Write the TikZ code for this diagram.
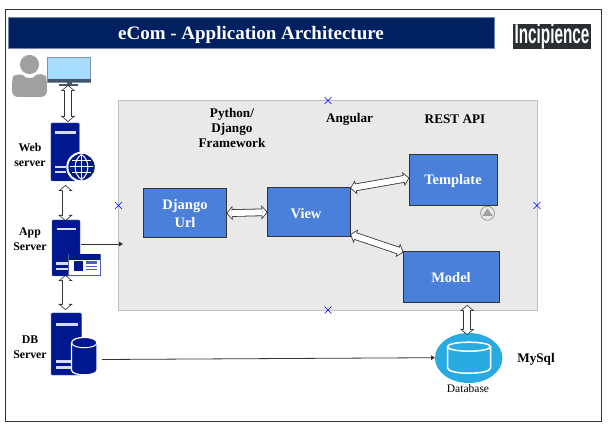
\documentclass[tikz,border=0pt]{standalone}
\usepackage{fontspec}
\setmainfont{Liberation Serif}
\newfontfamily\logofont{Liberation Sans}
\usetikzlibrary{arrows.meta,shapes.geometric}
\definecolor{navybar}{HTML}{002060}
\definecolor{barline}{HTML}{6F86AE}
\definecolor{srv}{HTML}{00188F}
\definecolor{boxblue}{HTML}{4A80D9}
\definecolor{boxline}{HTML}{333333}
\definecolor{grayfill}{HTML}{E9E9E9}
\definecolor{grayline}{HTML}{BFBFBF}
\definecolor{dbblue}{HTML}{29ABE2}
\definecolor{person}{HTML}{A0A0A0}
\definecolor{screen}{HTML}{A6DCFF}
\definecolor{screenedge}{HTML}{7F95A6}
\definecolor{monitordark}{HTML}{44546A}
\definecolor{winedge}{HTML}{4F5FB5}
\definecolor{logobg}{HTML}{2B2E33}
\tikzset{
  x=1pt,y=-1pt,
  sharp/.style={inner sep=0pt,outer sep=0pt},
  bluebox/.style={sharp,draw=boxline,line width=0.9pt,fill=boxblue},
  boxtext/.style={inner sep=0pt,text=white,align=center,font=\fontsize{14.5}{18}\selectfont\bfseries},
  lbl/.style={inner sep=0pt,align=center,font=\fontsize{11.8}{15}\selectfont\bfseries,text=black},
  lblbig/.style={inner sep=0pt,align=center,font=\fontsize{13.2}{15}\selectfont\bfseries,text=black},
  srvbody/.style={sharp,fill=srv,draw=srv!70!white,line width=0.4pt,rounded corners=1.2pt},
  strip/.style={fill=white!85!srv,draw=none},
  blockarrow/.style={draw=boxline,line width=7.6pt,
    arrows={Triangle[width=14pt,length=6pt]-Triangle[width=14pt,length=6pt]},
    postaction={draw=white,line width=6pt,shorten >=1.06pt,shorten <=1.06pt,
      arrows={Triangle[width=9.7pt,length=4.1pt]-Triangle[width=9.7pt,length=4.1pt]}}},
  thinarrow/.style={draw=boxline,line width=0.8pt,-{Triangle[width=4.5pt,length=4pt]}},
  handle/.style={draw=blue,line width=0.5pt},
}
\begin{document}
\begin{tikzpicture}
\useasboundingbox (0,0) rectangle (613,430);
\fill[white] (0,0) rectangle (613,430);
\node[sharp,draw=boxline,line width=0.9pt,minimum width=596.5pt,minimum height=411.5pt] (frame) at (303.3,215.3) {};
\node[sharp,fill=navybar,draw=barline,line width=0.6pt,minimum width=486pt,minimum height=30.5pt] (title) at (251.5,33) {};
\node[inner sep=0pt,text=white,font=\fontsize{19}{22}\selectfont\bfseries] (titletext) at (251,34.5) {eCom - Application Architecture};
\node[sharp,fill=logobg,minimum width=78pt,minimum height=23.5pt,text=white] (logo) at (552,36.5)
  {\scalebox{0.9}[1.6]{\logofont\bfseries\fontsize{17}{17}\selectfont Incipience}};

% person and monitor
\fill[person] (29.5,64.5) circle (9.6);
\fill[person,rounded corners=6pt] (12,97) -- (12,82) .. controls (13,76) and (19,74) .. (22,72.5)
  .. controls (26,78) and (33,78) .. (37,72.5) .. controls (41,74) and (46,76) .. (47,82) -- (47,97) -- cycle;
\node[sharp,fill=screen,draw=screenedge,line width=0.8pt,minimum width=43pt,minimum height=24.5pt] (monitor) at (69,69.7) {};
\fill[monitordark] (47.5,79.5) rectangle (90.5,82.2);
\fill[monitordark] (66.5,82) rectangle (71.5,84.5);
\fill[monitordark] (59,84.5) rectangle (77.5,86.5);

% gray frame
\node[sharp,fill=grayfill,draw=grayline,line width=0.8pt,minimum width=418.5pt,minimum height=210pt] (panel) at (327.8,205) {};

% web server
\node[srvbody,minimum width=28.5pt,minimum height=58pt] (web) at (65.2,152) {};
\fill[strip] (55,131.5) rectangle (75.5,134.5);
\fill[strip] (55,166) rectangle (66,168.5);
\fill[strip] (55,171) rectangle (66,173.5);
\fill[white] (81.5,167) circle (15.2);
\fill[srv] (81.5,167) circle (13.2);
\begin{scope}[draw=white,line width=1pt]
\draw (81.5,155) -- (81.5,179);
\draw (70,167) -- (93,167);
\draw (72,161) -- (91,161);
\draw (72,173) -- (91,173);
\draw (81.5,154.5) .. controls (73,160) and (73,174) .. (81.5,179.5);
\draw (81.5,154.5) .. controls (90,160) and (90,174) .. (81.5,179.5);
\end{scope}

% app server
\node[srvbody,minimum width=28pt,minimum height=56pt] (app) at (66,248) {};
\fill[strip] (56.5,228) rectangle (75.5,230.5);
\fill[strip] (56,262.5) rectangle (68,265);
\fill[strip] (56,268) rectangle (68,270.5);
\node[sharp,fill=white,draw=winedge,line width=0.8pt,minimum width=32.5pt,minimum height=21.5pt] (win) at (84.3,264.8) {};
\fill[srv] (68.5,254.3) rectangle (100.3,259.8);
\fill[srv] (73.5,261.5) rectangle (82.5,271);
\fill[winedge] (86,261.5) rectangle (97,264);
\fill[winedge] (86,265.7) rectangle (97,266.9);
\fill[winedge] (86,269) rectangle (97,270.4);

% db server
\node[srvbody,minimum width=30.5pt,minimum height=62pt] (db) at (66.3,344) {};
\fill[strip] (55.5,323) rectangle (77.5,325.5);
\fill[strip] (56,360) rectangle (72,362.5);
\fill[strip] (56,366) rectangle (72,368.5);
\draw[white,line width=1.2pt,fill=srv] (71.5,343) -- (71.5,370) .. controls (71.5,376.5) and (97,376.5) .. (97,370) -- (97,343)
  .. controls (97,335.5) and (71.5,335.5) .. (71.5,343) -- cycle;
\draw[white,line width=1pt] (71.5,342.5) .. controls (71.5,349.5) and (97,349.5) .. (97,342.5);

% blue boxes
\node[bluebox,minimum width=83pt,minimum height=48.5pt] (url) at (185,213.2) {};
\node[boxtext] (urltext) at (185,214) {Django\\Url};
\node[bluebox,minimum width=83pt,minimum height=48.5pt] (view) at (309,212.2) {};
\node[boxtext] (viewtext) at (306,214) {View};
\node[bluebox,minimum width=88pt,minimum height=51pt] (template) at (453,180) {};
\node[boxtext] (templatetext) at (453,181.5) {Template};
\node[bluebox,minimum width=96pt,minimum height=51pt] (model) at (451.5,276.5) {};
\node[boxtext] (modeltext) at (451,278) {Model};

% database
\node[sharp,ellipse,fill=dbblue,minimum width=67.5pt,minimum height=50pt] (database) at (468.7,358) {};
\draw[white,line width=1.5pt] (447.5,347) -- (447.5,368) .. controls (448,375) and (490,375) .. (490.5,368) -- (490.5,347);
\draw[white,line width=1.5pt] (469,346.7) ellipse (21.5 and 4.5);

% labels
\node[lbl] (lweb) at (30,155) {Web\\server};
\node[lbl] (lapp) at (30,239.5) {App\\Server};
\node[lbl] (ldb) at (30,347) {DB\\Server};
\node[lblbig] (lpy) at (232,127.5) {Python/\\Django\\Framework};
\node[lblbig] (lang) at (349.5,119) {Angular};
\node[lblbig] (lrest) at (455,119) {REST API};
\node[lblbig] (lmysql) at (536,359) {MySql};
\node[inner sep=0pt,font=\fontsize{11.5}{13}\selectfont] (ldbase) at (468,388.5) {Database};

% named connector ends
\coordinate (monbot) at (68,85);
\coordinate (webtop) at (68,122);
\coordinate (webbot) at (65.5,185);
\coordinate (apptop) at (65.5,221);
\coordinate (appbot) at (65.5,275);
\coordinate (dbtop) at (65.5,310);
\coordinate (appout) at (81,244);
\coordinate (panelin) at (123,244);
\coordinate (dbout) at (102,359.5);
\coordinate (dbin) at (435,357.7);
\coordinate (viewtr) at (350.2,188.3);
\coordinate (tmplin) at (409.3,178);
\coordinate (viewbr) at (350.2,234.3);
\coordinate (modin) at (403.5,252.3);
\coordinate (modbot) at (467.2,305);
\coordinate (dbasetop) at (467.2,335);

% connectors
\draw[blockarrow] (monbot) -- (webtop);
\draw[blockarrow] (webbot) -- (apptop);
\draw[blockarrow] (appbot) -- (dbtop);
\draw[blockarrow] (url.east) -- (view.west);
\draw[blockarrow] (viewtr) -- (tmplin);
\draw[blockarrow] (viewbr) -- (modin);
\draw[blockarrow] (modbot) -- (dbasetop);
\draw[thinarrow] (appout) -- (panelin);
\draw[thinarrow] (dbout) -- (dbin);

% selection handles
\foreach \hx/\hy in {118.5/205.5,328/100.5,537/205.5,328/310}{
  \draw[handle] (\hx-3.5,\hy-3.5) -- (\hx+3.5,\hy+3.5) (\hx-3.5,\hy+3.5) -- (\hx+3.5,\hy-3.5);
}
% scroll icon
\draw[person,line width=0.8pt,fill=grayfill] (487.5,213.3) circle (7);
\fill[person] (487.5,208.5) -- (492.8,216) -- (482.2,216) -- cycle;
\end{tikzpicture}
\end{document}
